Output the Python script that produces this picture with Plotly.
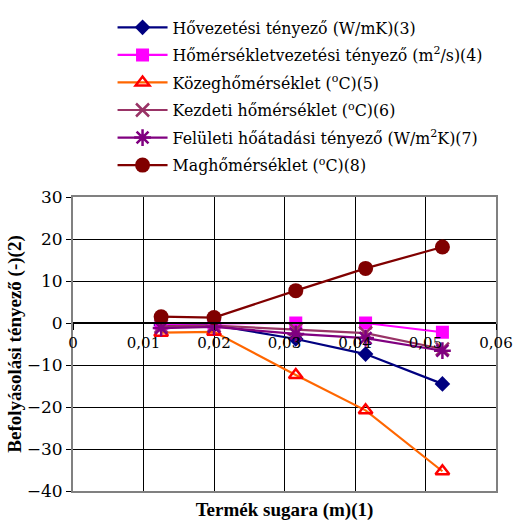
import plotly.graph_objects as go

radius = [0.0125, 0.02, 0.0316, 0.0415, 0.0524]
hovezetesi = [-0.5, -0.5, -3.8, -7.4, -14.5]
homerseklet_vez = [-0.2, -0.1, 0.0, 0.0, -2.2]
kozeg = [-2.3, -2.1, -12.4, -20.8, -35.3]
kezdeti = [-0.8, -0.6, -1.6, -2.4, -6.2]
feluleti = [-1.2, -0.9, -2.6, -3.6, -6.6]
mag = [1.5, 1.3, 7.7, 13.0, 18.1]

names = [
    "Hővezetési tényező (W/mK)(3)",
    "Hőmérsékletvezetési tényező (m<sup>2</sup>/s)(4)",
    "Közeghőmérséklet (<sup>o</sup>C)(5)",
    "Kezdeti hőmérséklet (<sup>o</sup>C)(6)",
    "Felületi hőátadási tényező (W/m<sup>2</sup>K)(7)",
    "Maghőmérséklet (<sup>o</sup>C)(8)",
]
series = [hovezetesi, homerseklet_vez, kozeg, kezdeti, feluleti, mag]
line_colors = ["#000080", "#FF00FF", "#FF6600", "#993366", "#800080", "#800000"]
marker_colors = ["#000080", "#FF00FF", "#FF0000", "#993366", "#800080", "#800000"]
symbols = ["diamond", "square", "triangle-up-open", "x-thin-open", "asterisk-open", "circle"]
sizes = [12, 13, 12, 13, 14, 15]

x_ticks = [0, 0.01, 0.02, 0.03, 0.04, 0.05, 0.06]
x_tick_labels = ["0", "0,01", "0,02", "0,03", "0,04", "0,05", "0,06"]
y_ticks = [-40, -30, -20, -10, 0, 10, 20, 30]

REG = "DejaVu Serif"
BOLD = "Liberation Serif, Times New Roman, serif"

fig = go.Figure()
for i, (nm, ys) in enumerate(zip(names, series)):
    mk = dict(symbol=symbols[i], size=sizes[i], color=marker_colors[i])
    if symbols[i].endswith("open"):
        mk["line"] = dict(color=marker_colors[i], width=2.5)
    fig.add_trace(go.Scatter(
        x=radius, y=ys, name=nm, mode="lines+markers",
        line=dict(color=line_colors[i], width=2.2),
        marker=mk, legendgroup=str(i),
    ))

# invisible trace on the crossing x-axis at y=0
fig.add_trace(go.Scatter(x=[0, 0.06], y=[0, 0], xaxis="x2", mode="lines",
                         line=dict(width=0), showlegend=False, hoverinfo="skip"))

y_min, y_max = -40, 30
fig.update_layout(
    width=513, height=521,
    margin=dict(l=73, r=17, t=197, b=30, autoexpand=False),
    paper_bgcolor="white", plot_bgcolor="white",
    font=dict(family=REG, size=15, color="black"),
    showlegend=True,
    legend=dict(
        x=0.0935, y=1.634, xanchor="left", yanchor="top",
        font=dict(family=REG, size=15.8, color="black"),
        tracegroupgap=4, itemwidth=50,
        bgcolor="rgba(0,0,0,0)",
    ),
    xaxis=dict(
        range=[0, 0.06], tickvals=x_ticks, showticklabels=False,
        showgrid=True, gridcolor="black", gridwidth=1,
        showline=True, linecolor="#808080", linewidth=2, mirror=True,
        zeroline=False, ticks="", automargin=False,
        title=dict(text="<b>Termék sugara (m)(1)</b>", font=dict(family=BOLD, size=19), standoff=12),
    ),
    xaxis2=dict(
        range=[0, 0.06], tickmode="array", tickvals=x_ticks, ticktext=x_tick_labels,
        overlaying="x", anchor="free",
        position=(0 - y_min) / (y_max - y_min),
        showline=True, linecolor="black", linewidth=1.5,
        ticks="outside", ticklen=6, tickcolor="black",
        showgrid=False, zeroline=False,
        tickfont=dict(family=REG, size=15),
    ),
    yaxis=dict(
        range=[y_min, y_max], tickvals=y_ticks,
        showgrid=True, gridcolor="black", gridwidth=1,
        showline=True, linecolor="#808080", linewidth=2, mirror=True,
        zeroline=False, ticks="outside", ticklen=5, tickcolor="black",
        tickfont=dict(family=REG, size=17), automargin=False,
        title=dict(text="<b>Befolyásolási tényező (-)(2)</b>", font=dict(family=BOLD, size=19), standoff=0),
    ),
)

fig.write_html("out.html")
